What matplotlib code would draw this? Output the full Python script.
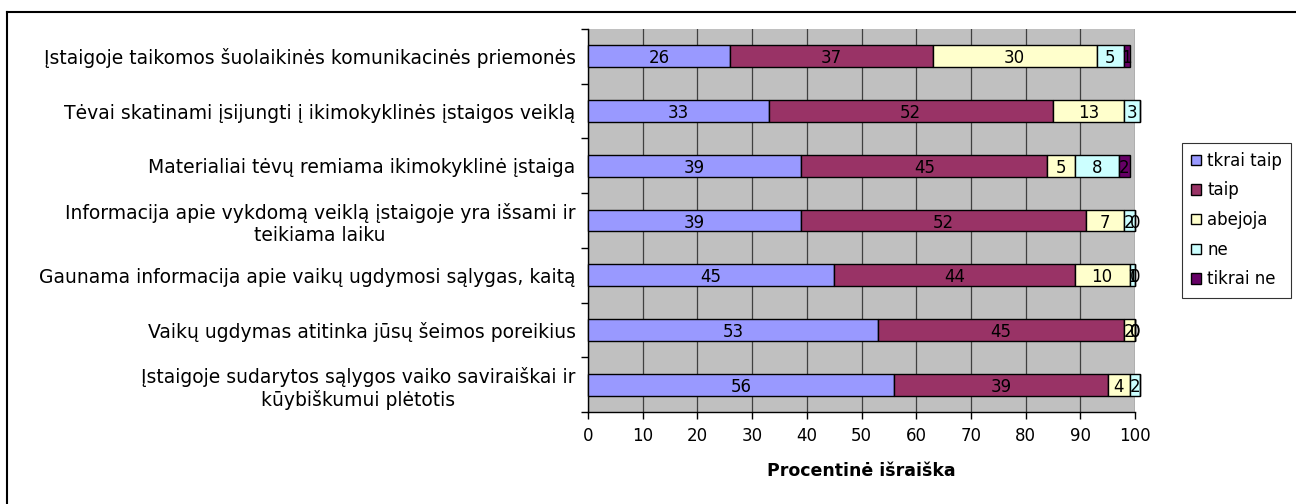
import numpy as np
import matplotlib
matplotlib.use('Agg')
import matplotlib.pyplot as plt
from matplotlib.patches import Patch
from matplotlib.lines import Line2D

plt.rcParams['font.family'] = ['DejaVu Sans']

categories = [
    'Įstaigoje taikomos šuolaikinės komunikacinės priemonės',
    'Tėvai skatinami įsijungti į ikimokyklinės įstaigos veiklą',
    'Materialiai tėvų remiama ikimokyklinė įstaiga',
    'Informacija apie vykdomą veiklą įstaigoje yra išsami ir\nteikiama laiku',
    'Gaunama informacija apie vaikų ugdymosi sąlygas, kaitą',
    'Vaikų ugdymas atitinka jūsų šeimos poreikius',
    'Įstaigoje sudarytos sąlygos vaiko saviraiškai ir\nkūybiškumui plėtotis',
]
series_names = ['tkrai taip', 'taip', 'abejoja', 'ne', 'tikrai ne']
tkrai_taip = [26, 33, 39, 39, 45, 53, 56]
taip = [37, 52, 45, 52, 44, 45, 39]
abejoja = [30, 13, 5, 7, 10, 2, 4]
ne = [5, 3, 8, 2, 1, 0, 2]
tikrai_ne = [1, 0, 2, 0, 0, 0, 0]
colors = ['#9999FF', '#993366', '#FFFFCC', '#CCFFFF', '#660066']
x_ticks = list(range(0, 101, 10))
x_label = 'Procentinė išraiška'

W, H = 1296, 504
fig = plt.figure(figsize=(W / 100, H / 100), dpi=100)
ax = fig.add_axes([588 / W, 1 - 412 / H, (1135 - 588) / W, (412 - 29) / H])
ax.set_facecolor('#C0C0C0')

ypos = np.arange(len(categories))
left = np.zeros(len(categories))
for vals, name, col in zip([tkrai_taip, taip, abejoja, ne, tikrai_ne], series_names, colors):
    vals = np.array(vals, dtype=float)
    ax.barh(ypos, vals, left=left, height=0.4, color=col, edgecolor='black',
            linewidth=1.0, clip_on=False, zorder=3)
    # Excel keeps labels whose centre is still inside the plot area
    for y, v, l in zip(ypos, vals, left):
        c = l + v / 2
        if c <= 100.3:
            ax.text(c, y, '%d' % v, ha='center', va='center_baseline', fontsize=12,
                    color='black', zorder=4, clip_on=False)
    left = left + vals

ax.set_xlim(0, 100)
ax.set_ylim(len(categories) - 0.5, -0.5)
ax.set_xticks(x_ticks)
ax.set_xticklabels([str(t) for t in x_ticks], fontsize=12)
ax.tick_params(axis='x', length=5, width=1, direction='out', pad=6)
ax.set_yticks(ypos)
ax.set_yticklabels(categories, fontsize=13.5)
for lbl in ax.get_yticklabels():
    lbl.set_multialignment('center')
ax.set_yticks(np.arange(-0.5, len(categories), 1), minor=True)
ax.tick_params(axis='y', which='major', length=0, pad=9)
ax.tick_params(axis='y', which='minor', length=5, width=1, direction='out')

ax.xaxis.grid(True, color='#404040', linewidth=0.9)
ax.set_axisbelow(True)
for s in ['top', 'right']:
    ax.spines[s].set_visible(False)
for s in ['left', 'bottom']:
    ax.spines[s].set_color('black')
    ax.spines[s].set_linewidth(1.0)

xl = ax.set_xlabel(x_label, fontsize=12.5, fontweight='bold')
xl.set_va('center')
ax.xaxis.set_label_coords(0.5, -(471 - 412) / (412 - 29))

handles = [Patch(facecolor=c, edgecolor='black', linewidth=1.0) for c in colors]
leg = fig.legend(handles, series_names, loc='center',
                 bbox_to_anchor=(1236.5 / W, 1 - 220 / H), fontsize=12,
                 frameon=True, fancybox=False, handlelength=0.6, handleheight=0.6,
                 handletextpad=0.4, labelspacing=0.7, borderpad=0.55)
leg.get_frame().set_edgecolor('black')
leg.get_frame().set_linewidth(0.8)

fig.add_artist(Line2D([7 / W, 7 / W], [0, 1 - 12 / H], transform=fig.transFigure,
                      color='black', linewidth=1.5))
fig.add_artist(Line2D([7 / W, 1], [1 - 12 / H, 1 - 12 / H], transform=fig.transFigure,
                      color='black', linewidth=1.5))

fig.savefig('out.png', dpi=100)
